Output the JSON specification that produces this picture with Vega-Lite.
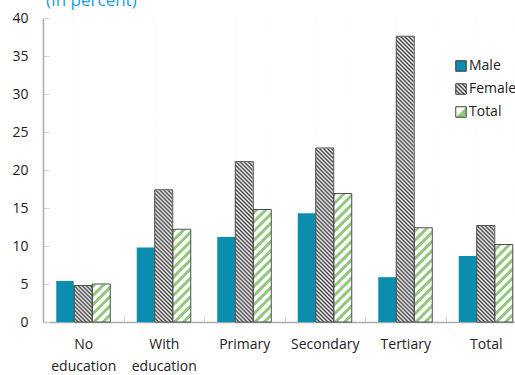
{
  "$schema": "https://vega.github.io/schema/vega-lite/v6.json",
  "autosize": {"type": "none"},
  "padding": {"left": 43, "top": 18, "right": 0, "bottom": 53},
  "width": 472,
  "height": 304,
  "background": "white",
  "title": {
    "text": "(In percent)",
    "anchor": "start",
    "frame": "group",
    "color": "#219dd8",
    "font": "Open Sans",
    "fontSize": 17,
    "fontWeight": "normal",
    "baseline": "alphabetic",
    "offset": -12,
    "dx": 3
  },
  "config": {
    "view": {"stroke": null},
    "font": "Open Sans",
    "axis": {
      "labelFont": "Open Sans",
      "labelFontSize": 14,
      "labelColor": "#222222",
      "domainColor": "#ababab",
      "domainWidth": 1.5,
      "tickColor": "#d4d4d4",
      "tickWidth": 1,
      "grid": false
    },
    "axisY": {"tickSize": -6, "labelPadding": 21, "tickCount": 8}
  },
  "data": {
    "values": [
      {"level": "No education", "sex": "Male", "value": 5.4},
      {"level": "No education", "sex": "Female", "value": 4.8},
      {"level": "No education", "sex": "Total", "value": 5.0},
      {"level": "With education", "sex": "Male", "value": 9.8},
      {"level": "With education", "sex": "Female", "value": 17.4},
      {"level": "With education", "sex": "Total", "value": 12.2},
      {"level": "Primary", "sex": "Male", "value": 11.2},
      {"level": "Primary", "sex": "Female", "value": 21.1},
      {"level": "Primary", "sex": "Total", "value": 14.8},
      {"level": "Secondary", "sex": "Male", "value": 14.3},
      {"level": "Secondary", "sex": "Female", "value": 22.9},
      {"level": "Secondary", "sex": "Total", "value": 16.9},
      {"level": "Tertiary", "sex": "Male", "value": 5.9},
      {"level": "Tertiary", "sex": "Female", "value": 37.6},
      {"level": "Tertiary", "sex": "Total", "value": 12.4},
      {"level": "Total", "sex": "Male", "value": 8.7},
      {"level": "Total", "sex": "Female", "value": 12.7},
      {"level": "Total", "sex": "Total", "value": 10.2}
    ]
  },
  "encoding": {
    "x": {
      "field": "level",
      "type": "nominal",
      "sort": ["No education", "With education", "Primary", "Secondary", "Tertiary", "Total"],
      "scale": {"range": [0, 483], "paddingInner": 0, "paddingOuter": 0},
      "axis": {
        "title": null,
        "labelAngle": 0,
        "tickBand": "extent",
        "tickSize": -6,
        "labelPadding": 21,
        "labelLineHeight": 22,
        "labelExpr": "split(datum.label, ' ')"
      }
    },
    "xOffset": {
      "field": "sex",
      "type": "nominal",
      "sort": ["Male", "Female", "Total"],
      "scale": {"paddingInner": 0, "paddingOuter": 0.736}
    }
  },
  "layer": [
    {
      "mark": {"type": "bar", "strokeWidth": 0},
      "encoding": {
        "y": {"field": "value", "type": "quantitative", "title": null, "scale": {"domain": [0, 40], "nice": false}},
        "fill": {
          "field": "sex",
          "type": "nominal",
          "scale": {
            "domain": ["Male", "Female", "Total"],
            "range": [
              "#0b8db0",
              {"expr": "{gradient: 'linear', x1: 0, y1: 1, x2: 1, y2: 0, stops: [{offset: 0, color: '#3a3a3a'}, {offset: 0.1, color: '#fff'}, {offset: 0.2, color: '#3a3a3a'}, {offset: 0.3, color: '#fff'}, {offset: 0.4, color: '#3a3a3a'}, {offset: 0.5, color: '#fff'}, {offset: 0.6, color: '#3a3a3a'}, {offset: 0.7, color: '#fff'}, {offset: 0.8, color: '#3a3a3a'}, {offset: 0.9, color: '#fff'}, {offset: 1, color: '#3a3a3a'}]}"},
              {"expr": "{gradient: 'linear', x1: 0, y1: 0, x2: 1, y2: 1, stops: [{offset: 0, color: '#fff'}, {offset: 0.48, color: '#fff'}, {offset: 0.55, color: '#8fca7c'}, {offset: 0.85, color: '#8fca7c'}, {offset: 0.92, color: '#fff'}, {offset: 1, color: '#fff'}]}"}
            ]
          },
          "legend": {
            "title": null,
            "orient": "none",
            "legendX": 411,
            "legendY": 41,
            "symbolType": "square",
            "symbolSize": 110,
            "symbolStrokeWidth": 1,
            "symbolStrokeColor": "#3a3a3a",
            "symbolOpacity": 1,
            "labelFont": "Open Sans",
            "labelFontSize": 14,
            "labelColor": "#222222",
            "labelOffset": 1,
            "labelLimit": 200,
            "rowPadding": 7
          }
        }
      }
    },
    {
      "transform": [{"filter": "datum.sex !== 'Male'"}],
      "mark": {"type": "bar", "strokeWidth": 0},
      "encoding": {
        "y": {"datum": 40, "type": "quantitative", "title": null},
        "y2": {"datum": 0},
        "fill": {
          "condition": {
            "test": "datum.sex === 'Female'",
            "value": {
              "gradient": "linear", "x1": 0, "y1": 1, "x2": 0.0625, "y2": -0.0556,
              "stops": [
                {"offset": 0, "color": "#3a3a3a"}, {"offset": 0.00625, "color": "#fff"}, {"offset": 0.0125, "color": "#3a3a3a"}, {"offset": 0.01875, "color": "#fff"},
                {"offset": 0.025, "color": "#3a3a3a"}, {"offset": 0.03125, "color": "#fff"}, {"offset": 0.0375, "color": "#3a3a3a"}, {"offset": 0.04375, "color": "#fff"},
                {"offset": 0.05, "color": "#3a3a3a"}, {"offset": 0.05625, "color": "#fff"}, {"offset": 0.0625, "color": "#3a3a3a"}, {"offset": 0.06875, "color": "#fff"},
                {"offset": 0.075, "color": "#3a3a3a"}, {"offset": 0.08125, "color": "#fff"}, {"offset": 0.0875, "color": "#3a3a3a"}, {"offset": 0.09375, "color": "#fff"},
                {"offset": 0.1, "color": "#3a3a3a"}, {"offset": 0.10625, "color": "#fff"}, {"offset": 0.1125, "color": "#3a3a3a"}, {"offset": 0.11875, "color": "#fff"},
                {"offset": 0.125, "color": "#3a3a3a"}, {"offset": 0.13125, "color": "#fff"}, {"offset": 0.1375, "color": "#3a3a3a"}, {"offset": 0.14375, "color": "#fff"},
                {"offset": 0.15, "color": "#3a3a3a"}, {"offset": 0.15625, "color": "#fff"}, {"offset": 0.1625, "color": "#3a3a3a"}, {"offset": 0.16875, "color": "#fff"},
                {"offset": 0.175, "color": "#3a3a3a"}, {"offset": 0.18125, "color": "#fff"}, {"offset": 0.1875, "color": "#3a3a3a"}, {"offset": 0.19375, "color": "#fff"},
                {"offset": 0.2, "color": "#3a3a3a"}, {"offset": 0.20625, "color": "#fff"}, {"offset": 0.2125, "color": "#3a3a3a"}, {"offset": 0.21875, "color": "#fff"},
                {"offset": 0.225, "color": "#3a3a3a"}, {"offset": 0.23125, "color": "#fff"}, {"offset": 0.2375, "color": "#3a3a3a"}, {"offset": 0.24375, "color": "#fff"},
                {"offset": 0.25, "color": "#3a3a3a"}, {"offset": 0.25625, "color": "#fff"}, {"offset": 0.2625, "color": "#3a3a3a"}, {"offset": 0.26875, "color": "#fff"},
                {"offset": 0.275, "color": "#3a3a3a"}, {"offset": 0.28125, "color": "#fff"}, {"offset": 0.2875, "color": "#3a3a3a"}, {"offset": 0.29375, "color": "#fff"},
                {"offset": 0.3, "color": "#3a3a3a"}, {"offset": 0.30625, "color": "#fff"}, {"offset": 0.3125, "color": "#3a3a3a"}, {"offset": 0.31875, "color": "#fff"},
                {"offset": 0.325, "color": "#3a3a3a"}, {"offset": 0.33125, "color": "#fff"}, {"offset": 0.3375, "color": "#3a3a3a"}, {"offset": 0.34375, "color": "#fff"},
                {"offset": 0.35, "color": "#3a3a3a"}, {"offset": 0.35625, "color": "#fff"}, {"offset": 0.3625, "color": "#3a3a3a"}, {"offset": 0.36875, "color": "#fff"},
                {"offset": 0.375, "color": "#3a3a3a"}, {"offset": 0.38125, "color": "#fff"}, {"offset": 0.3875, "color": "#3a3a3a"}, {"offset": 0.39375, "color": "#fff"},
                {"offset": 0.4, "color": "#3a3a3a"}, {"offset": 0.40625, "color": "#fff"}, {"offset": 0.4125, "color": "#3a3a3a"}, {"offset": 0.41875, "color": "#fff"},
                {"offset": 0.425, "color": "#3a3a3a"}, {"offset": 0.43125, "color": "#fff"}, {"offset": 0.4375, "color": "#3a3a3a"}, {"offset": 0.44375, "color": "#fff"},
                {"offset": 0.45, "color": "#3a3a3a"}, {"offset": 0.45625, "color": "#fff"}, {"offset": 0.4625, "color": "#3a3a3a"}, {"offset": 0.46875, "color": "#fff"},
                {"offset": 0.475, "color": "#3a3a3a"}, {"offset": 0.48125, "color": "#fff"}, {"offset": 0.4875, "color": "#3a3a3a"}, {"offset": 0.49375, "color": "#fff"},
                {"offset": 0.5, "color": "#3a3a3a"}, {"offset": 0.50625, "color": "#fff"}, {"offset": 0.5125, "color": "#3a3a3a"}, {"offset": 0.51875, "color": "#fff"},
                {"offset": 0.525, "color": "#3a3a3a"}, {"offset": 0.53125, "color": "#fff"}, {"offset": 0.5375, "color": "#3a3a3a"}, {"offset": 0.54375, "color": "#fff"},
                {"offset": 0.55, "color": "#3a3a3a"}, {"offset": 0.55625, "color": "#fff"}, {"offset": 0.5625, "color": "#3a3a3a"}, {"offset": 0.56875, "color": "#fff"},
                {"offset": 0.575, "color": "#3a3a3a"}, {"offset": 0.58125, "color": "#fff"}, {"offset": 0.5875, "color": "#3a3a3a"}, {"offset": 0.59375, "color": "#fff"},
                {"offset": 0.6, "color": "#3a3a3a"}, {"offset": 0.60625, "color": "#fff"}, {"offset": 0.6125, "color": "#3a3a3a"}, {"offset": 0.61875, "color": "#fff"},
                {"offset": 0.625, "color": "#3a3a3a"}, {"offset": 0.63125, "color": "#fff"}, {"offset": 0.6375, "color": "#3a3a3a"}, {"offset": 0.64375, "color": "#fff"},
                {"offset": 0.65, "color": "#3a3a3a"}, {"offset": 0.65625, "color": "#fff"}, {"offset": 0.6625, "color": "#3a3a3a"}, {"offset": 0.66875, "color": "#fff"},
                {"offset": 0.675, "color": "#3a3a3a"}, {"offset": 0.68125, "color": "#fff"}, {"offset": 0.6875, "color": "#3a3a3a"}, {"offset": 0.69375, "color": "#fff"},
                {"offset": 0.7, "color": "#3a3a3a"}, {"offset": 0.70625, "color": "#fff"}, {"offset": 0.7125, "color": "#3a3a3a"}, {"offset": 0.71875, "color": "#fff"},
                {"offset": 0.725, "color": "#3a3a3a"}, {"offset": 0.73125, "color": "#fff"}, {"offset": 0.7375, "color": "#3a3a3a"}, {"offset": 0.74375, "color": "#fff"},
                {"offset": 0.75, "color": "#3a3a3a"}, {"offset": 0.75625, "color": "#fff"}, {"offset": 0.7625, "color": "#3a3a3a"}, {"offset": 0.76875, "color": "#fff"},
                {"offset": 0.775, "color": "#3a3a3a"}, {"offset": 0.78125, "color": "#fff"}, {"offset": 0.7875, "color": "#3a3a3a"}, {"offset": 0.79375, "color": "#fff"},
                {"offset": 0.8, "color": "#3a3a3a"}, {"offset": 0.80625, "color": "#fff"}, {"offset": 0.8125, "color": "#3a3a3a"}, {"offset": 0.81875, "color": "#fff"},
                {"offset": 0.825, "color": "#3a3a3a"}, {"offset": 0.83125, "color": "#fff"}, {"offset": 0.8375, "color": "#3a3a3a"}, {"offset": 0.84375, "color": "#fff"},
                {"offset": 0.85, "color": "#3a3a3a"}, {"offset": 0.85625, "color": "#fff"}, {"offset": 0.8625, "color": "#3a3a3a"}, {"offset": 0.86875, "color": "#fff"},
                {"offset": 0.875, "color": "#3a3a3a"}, {"offset": 0.88125, "color": "#fff"}, {"offset": 0.8875, "color": "#3a3a3a"}, {"offset": 0.89375, "color": "#fff"},
                {"offset": 0.9, "color": "#3a3a3a"}, {"offset": 0.90625, "color": "#fff"}, {"offset": 0.9125, "color": "#3a3a3a"}, {"offset": 0.91875, "color": "#fff"},
                {"offset": 0.925, "color": "#3a3a3a"}, {"offset": 0.93125, "color": "#fff"}, {"offset": 0.9375, "color": "#3a3a3a"}, {"offset": 0.94375, "color": "#fff"},
                {"offset": 0.95, "color": "#3a3a3a"}, {"offset": 0.95625, "color": "#fff"}, {"offset": 0.9625, "color": "#3a3a3a"}, {"offset": 0.96875, "color": "#fff"},
                {"offset": 0.975, "color": "#3a3a3a"}, {"offset": 0.98125, "color": "#fff"}, {"offset": 0.9875, "color": "#3a3a3a"}, {"offset": 0.99375, "color": "#fff"},
                {"offset": 1, "color": "#3a3a3a"}
              ]
            }
          },
          "value": {
            "gradient": "linear", "x1": 0, "y1": 0, "x2": 0.0625, "y2": 1.0556,
            "stops": [
              {"offset": 0.0015, "color": "#8fca7c"}, {"offset": 0.0115, "color": "#8fca7c"}, {"offset": 0.014, "color": "#fff"}, {"offset": 0.027, "color": "#fff"},
              {"offset": 0.030071, "color": "#8fca7c"}, {"offset": 0.040071, "color": "#8fca7c"}, {"offset": 0.042571, "color": "#fff"}, {"offset": 0.055571, "color": "#fff"},
              {"offset": 0.058643, "color": "#8fca7c"}, {"offset": 0.068643, "color": "#8fca7c"}, {"offset": 0.071143, "color": "#fff"}, {"offset": 0.084143, "color": "#fff"},
              {"offset": 0.087214, "color": "#8fca7c"}, {"offset": 0.097214, "color": "#8fca7c"}, {"offset": 0.099714, "color": "#fff"}, {"offset": 0.112714, "color": "#fff"},
              {"offset": 0.115786, "color": "#8fca7c"}, {"offset": 0.125786, "color": "#8fca7c"}, {"offset": 0.128286, "color": "#fff"}, {"offset": 0.141286, "color": "#fff"},
              {"offset": 0.144357, "color": "#8fca7c"}, {"offset": 0.154357, "color": "#8fca7c"}, {"offset": 0.156857, "color": "#fff"}, {"offset": 0.169857, "color": "#fff"},
              {"offset": 0.172929, "color": "#8fca7c"}, {"offset": 0.182929, "color": "#8fca7c"}, {"offset": 0.185429, "color": "#fff"}, {"offset": 0.198429, "color": "#fff"},
              {"offset": 0.2015, "color": "#8fca7c"}, {"offset": 0.2115, "color": "#8fca7c"}, {"offset": 0.214, "color": "#fff"}, {"offset": 0.227, "color": "#fff"},
              {"offset": 0.230071, "color": "#8fca7c"}, {"offset": 0.240071, "color": "#8fca7c"}, {"offset": 0.242571, "color": "#fff"}, {"offset": 0.255571, "color": "#fff"},
              {"offset": 0.258643, "color": "#8fca7c"}, {"offset": 0.268643, "color": "#8fca7c"}, {"offset": 0.271143, "color": "#fff"}, {"offset": 0.284143, "color": "#fff"},
              {"offset": 0.287214, "color": "#8fca7c"}, {"offset": 0.297214, "color": "#8fca7c"}, {"offset": 0.299714, "color": "#fff"}, {"offset": 0.312714, "color": "#fff"},
              {"offset": 0.315786, "color": "#8fca7c"}, {"offset": 0.325786, "color": "#8fca7c"}, {"offset": 0.328286, "color": "#fff"}, {"offset": 0.341286, "color": "#fff"},
              {"offset": 0.344357, "color": "#8fca7c"}, {"offset": 0.354357, "color": "#8fca7c"}, {"offset": 0.356857, "color": "#fff"}, {"offset": 0.369857, "color": "#fff"},
              {"offset": 0.372929, "color": "#8fca7c"}, {"offset": 0.382929, "color": "#8fca7c"}, {"offset": 0.385429, "color": "#fff"}, {"offset": 0.398429, "color": "#fff"},
              {"offset": 0.4015, "color": "#8fca7c"}, {"offset": 0.4115, "color": "#8fca7c"}, {"offset": 0.414, "color": "#fff"}, {"offset": 0.427, "color": "#fff"},
              {"offset": 0.430071, "color": "#8fca7c"}, {"offset": 0.440071, "color": "#8fca7c"}, {"offset": 0.442571, "color": "#fff"}, {"offset": 0.455571, "color": "#fff"},
              {"offset": 0.458643, "color": "#8fca7c"}, {"offset": 0.468643, "color": "#8fca7c"}, {"offset": 0.471143, "color": "#fff"}, {"offset": 0.484143, "color": "#fff"},
              {"offset": 0.487214, "color": "#8fca7c"}, {"offset": 0.497214, "color": "#8fca7c"}, {"offset": 0.499714, "color": "#fff"}, {"offset": 0.512714, "color": "#fff"},
              {"offset": 0.515786, "color": "#8fca7c"}, {"offset": 0.525786, "color": "#8fca7c"}, {"offset": 0.528286, "color": "#fff"}, {"offset": 0.541286, "color": "#fff"},
              {"offset": 0.544357, "color": "#8fca7c"}, {"offset": 0.554357, "color": "#8fca7c"}, {"offset": 0.556857, "color": "#fff"}, {"offset": 0.569857, "color": "#fff"},
              {"offset": 0.572929, "color": "#8fca7c"}, {"offset": 0.582929, "color": "#8fca7c"}, {"offset": 0.585429, "color": "#fff"}, {"offset": 0.598429, "color": "#fff"},
              {"offset": 0.6015, "color": "#8fca7c"}, {"offset": 0.6115, "color": "#8fca7c"}, {"offset": 0.614, "color": "#fff"}, {"offset": 0.627, "color": "#fff"},
              {"offset": 0.630071, "color": "#8fca7c"}, {"offset": 0.640071, "color": "#8fca7c"}, {"offset": 0.642571, "color": "#fff"}, {"offset": 0.655571, "color": "#fff"},
              {"offset": 0.658643, "color": "#8fca7c"}, {"offset": 0.668643, "color": "#8fca7c"}, {"offset": 0.671143, "color": "#fff"}, {"offset": 0.684143, "color": "#fff"},
              {"offset": 0.687214, "color": "#8fca7c"}, {"offset": 0.697214, "color": "#8fca7c"}, {"offset": 0.699714, "color": "#fff"}, {"offset": 0.712714, "color": "#fff"},
              {"offset": 0.715786, "color": "#8fca7c"}, {"offset": 0.725786, "color": "#8fca7c"}, {"offset": 0.728286, "color": "#fff"}, {"offset": 0.741286, "color": "#fff"},
              {"offset": 0.744357, "color": "#8fca7c"}, {"offset": 0.754357, "color": "#8fca7c"}, {"offset": 0.756857, "color": "#fff"}, {"offset": 0.769857, "color": "#fff"},
              {"offset": 0.772929, "color": "#8fca7c"}, {"offset": 0.782929, "color": "#8fca7c"}, {"offset": 0.785429, "color": "#fff"}, {"offset": 0.798429, "color": "#fff"},
              {"offset": 0.8015, "color": "#8fca7c"}, {"offset": 0.8115, "color": "#8fca7c"}, {"offset": 0.814, "color": "#fff"}, {"offset": 0.827, "color": "#fff"},
              {"offset": 0.830071, "color": "#8fca7c"}, {"offset": 0.840071, "color": "#8fca7c"}, {"offset": 0.842571, "color": "#fff"}, {"offset": 0.855571, "color": "#fff"},
              {"offset": 0.858643, "color": "#8fca7c"}, {"offset": 0.868643, "color": "#8fca7c"}, {"offset": 0.871143, "color": "#fff"}, {"offset": 0.884143, "color": "#fff"},
              {"offset": 0.887214, "color": "#8fca7c"}, {"offset": 0.897214, "color": "#8fca7c"}, {"offset": 0.899714, "color": "#fff"}, {"offset": 0.912714, "color": "#fff"},
              {"offset": 0.915786, "color": "#8fca7c"}, {"offset": 0.925786, "color": "#8fca7c"}, {"offset": 0.928286, "color": "#fff"}, {"offset": 0.941286, "color": "#fff"},
              {"offset": 0.944357, "color": "#8fca7c"}, {"offset": 0.954357, "color": "#8fca7c"}, {"offset": 0.956857, "color": "#fff"}, {"offset": 0.969857, "color": "#fff"},
              {"offset": 0.972929, "color": "#8fca7c"}, {"offset": 0.982929, "color": "#8fca7c"}, {"offset": 0.985429, "color": "#fff"}, {"offset": 0.998429, "color": "#fff"}
            ]
          }
        }
      }
    },
    {
      "transform": [{"filter": "datum.sex !== 'Male'"}],
      "mark": {"type": "bar", "fill": "white", "stroke": "white", "strokeWidth": 1},
      "encoding": {
        "y": {"field": "value", "type": "quantitative", "title": null},
        "y2": {"datum": 40}
      }
    },
    {
      "transform": [{"filter": "datum.sex !== 'Male'"}],
      "mark": {"type": "bar", "fill": "transparent", "stroke": "#4d4d4d", "strokeWidth": 1},
      "encoding": {
        "y": {"field": "value", "type": "quantitative", "title": null}
      }
    }
  ]
}
